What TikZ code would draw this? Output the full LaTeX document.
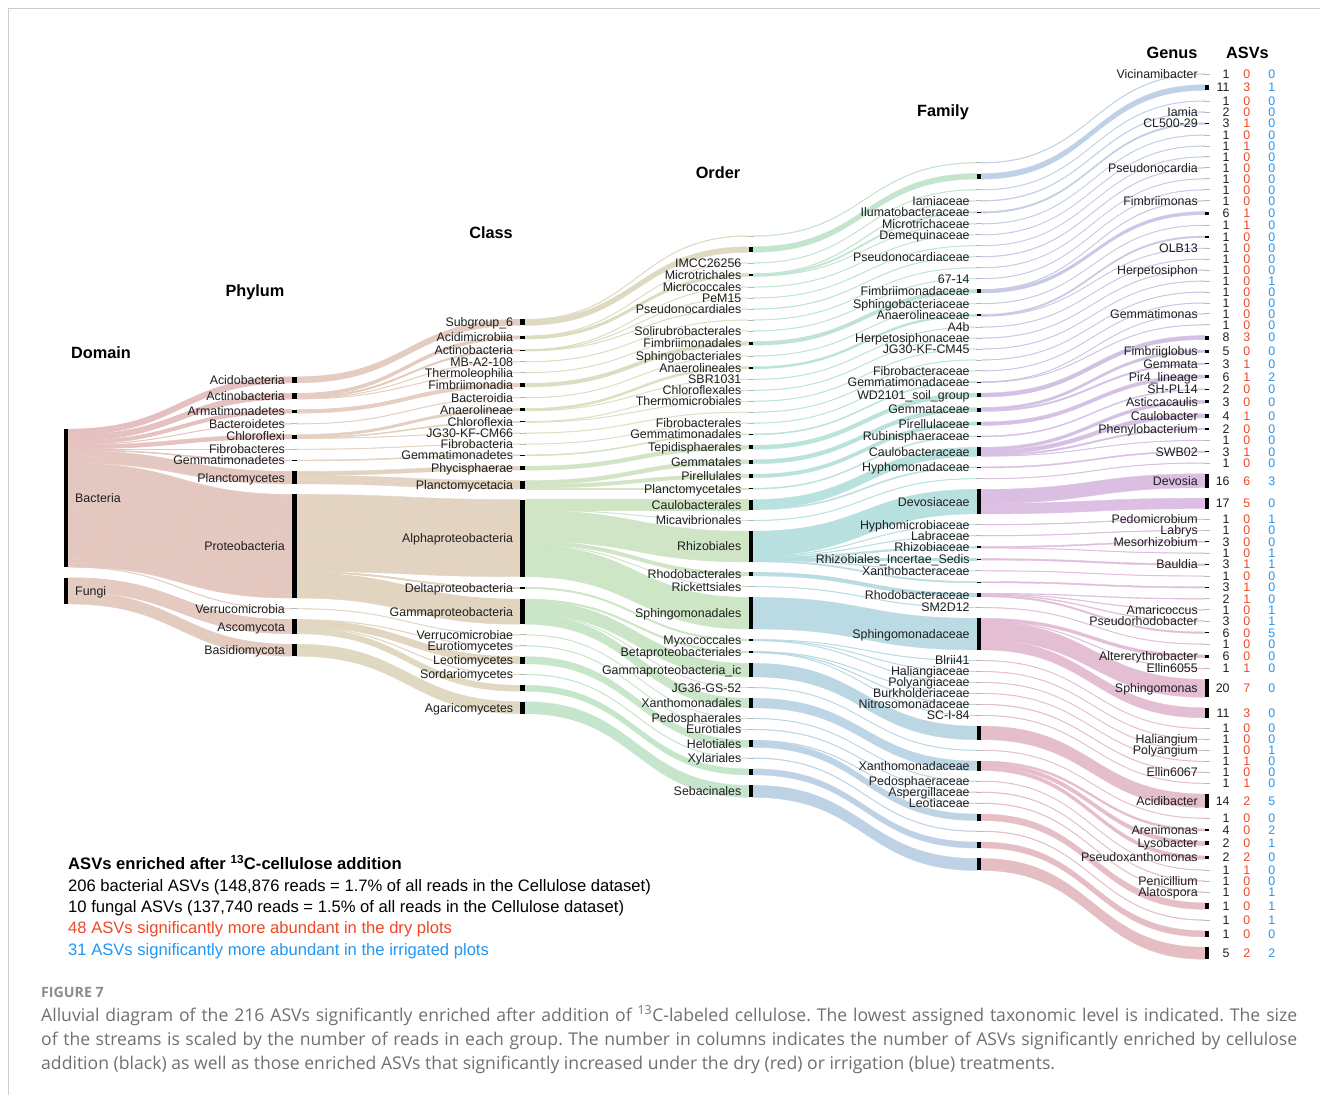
\documentclass[tikz,border=0pt]{standalone}
\usepackage{fontspec}
\setmainfont{Liberation Sans}
\newfontfamily\capfont{Open Sans}
\definecolor{pal0}{RGB}{229,190,192}
\definecolor{pal1}{RGB}{228,206,192}
\definecolor{pal2}{RGB}{225,215,192}
\definecolor{pal3}{RGB}{214,227,195}
\definecolor{pal4}{RGB}{204,230,198}
\definecolor{pal5}{RGB}{190,229,210}
\definecolor{pal6}{RGB}{184,226,222}
\definecolor{pal7}{RGB}{186,217,228}
\definecolor{pal8}{RGB}{192,207,230}
\definecolor{pal9}{RGB}{206,195,230}
\definecolor{pal10}{RGB}{222,190,225}
\definecolor{pal11}{RGB}{229,190,208}
\definecolor{pal12}{RGB}{229,190,195}
\definecolor{pal13}{RGB}{229,190,195}
\definecolor{numred}{RGB}{240,72,36}
\definecolor{numblue}{RGB}{33,150,243}
\definecolor{capgray}{RGB}{112,112,112}
\definecolor{figgray}{RGB}{140,140,140}
\definecolor{framegray}{RGB}{205,205,205}
\tikzset{
  lab/.style={font=\fontsize{12.4}{13}\selectfont, inner sep=0pt, text=black!88},
  hdr/.style={font=\fontsize{16.3}{18}\selectfont\bfseries, inner sep=0pt, anchor=base},
  leg/.style={font=\fontsize{16.6}{19}\selectfont, inner sep=0pt, anchor=base west},
  capt/.style={font=\capfont\fontsize{17.6}{21}\selectfont\frenchspacing, inner sep=0pt, anchor=base west, text=capgray},
}
\makeatletter
\newdimen\accy
\newcount\nstrata
\def\gapv{10.45}
\def\cent{516.5}
\def\layoutcol#1{%
  \global\accy=0pt\relax
  \global\nstrata=0\relax
  \gdef\prevs{}%
  \foreach \i in {1,...,70}{%
    \edef\cur{\csname s@\i @#1\endcsname}%
    \ifx\cur\prevs\else\global\advance\nstrata by 1\relax\fi
    \xdef\prevs{\cur}%
    \global\advance\accy by \csname w@\i\endcsname pt\relax
  }%
  \pgfmathsetmacro\spread{\accy+(\nstrata-1)*\gapv}%
  \pgfmathsetmacro\ytop{\cent-\spread/2}%
  \global\accy=\ytop pt\relax
  \gdef\prevs{}%
  \global\nstrata=0\relax
  \foreach \i in {1,...,70}{%
    \edef\cur{\csname s@\i @#1\endcsname}%
    \ifx\cur\prevs\else
      \ifnum\i>1\relax\global\advance\accy by \gapv pt\relax\fi
      \global\advance\nstrata by 1\relax
      \expandafter\xdef\csname st@#1@\cur\endcsname{\strip@pt\accy}%
    \fi
    \xdef\prevs{\cur}%
    \expandafter\xdef\csname t@\i @#1\endcsname{\strip@pt\accy}%
    \expandafter\xdef\csname li@\i @#1\endcsname{\the\nstrata}%
    \global\advance\accy by \csname w@\i\endcsname pt\relax
    \expandafter\xdef\csname sb@#1@\cur\endcsname{\strip@pt\accy}%
  }%
}
\newcommand\drawbar[3]{%
  \pgfmathsetmacro\hh{#3-#2}%
  \pgfmathsetmacro\ymid{(#2+#3)/2}%
  \ifdim\hh pt<1pt
    \draw[gray!55,line width=0.9pt] ({#1-3},\ymid) -- ({#1+3},\ymid);
  \else
    \fill[black] ({#1-2.2},#2) rectangle ({#1+2.2},#3);
  \fi
}
% #1 column, #2 bar x, #3 label x, #4 anchor, #5 list
\newcommand\drawcol[5]{%
  \foreach \s/\lab in {#5}{%
    \edef\yt{\csname st@#1@\s\endcsname}%
    \edef\yb{\csname sb@#1@\s\endcsname}%
    \drawbar{#2}{\yt}{\yb}%
    \pgfmathsetmacro\yl{(\yt+\yb)/2+4.4}%
    \node[lab,anchor=#4] (c#1\s) at (#3,\yl) {\lab};
  }%
}
\makeatother
\begin{document}
\begin{tikzpicture}[x=1pt,y=-1pt]
\useasboundingbox (0,0) rectangle (1320,1095);
\fill[white] (0,0) rectangle (1320,1095);
\draw[framegray,line width=1pt] (8.5,1095) -- (8.5,8.5) -- (1320,8.5);
% ---------- data: row / width / domain / phylum / class / order / family
\foreach \ri/\rw/\ra/\rb/\rc/\rd/\re in {
1/0.6/D1/P1/C1/O1/F1, 2/5.5/D1/P1/C1/O2/F2, 3/0.5/D1/P2/C2/O3/F3, 4/0.7/D1/P2/C2/O4/F4,
5/1.5/D1/P2/C2/O4/F5, 6/0.5/D1/P2/C2/O4/F6, 7/0.5/D1/P2/C3/O5/F7, 8/0.5/D1/P2/C3/O6/F8,
9/0.6/D1/P2/C3/O7/F9, 10/0.5/D1/P2/C4/O8/F10, 11/0.5/D1/P2/C5/O9/F11, 12/0.6/D1/P3/C6/O10/F12,
13/3.0/D1/P3/C6/O10/F12, 14/0.5/D1/P4/C7/O11/F13, 15/1.5/D1/P5/C8/O12/F14, 16/0.5/D1/P5/C8/O12/F14,
17/0.5/D1/P5/C8/O13/F15, 18/0.5/D1/P5/C9/O14/F16, 19/0.5/D1/P5/C9/O15/F17, 20/0.5/D1/P5/C10/O16/F18,
21/0.5/D1/P6/C11/O17/F19, 22/0.5/D1/P7/C12/O18/F20, 23/0.5/D1/P7/C12/O18/F20, 24/4.0/D1/P8/C13/O19/F21,
25/2.5/D1/P8/C14/O20/F22, 26/1.5/D1/P8/C14/O20/F22, 27/3.5/D1/P8/C14/O21/F23, 28/1.0/D1/P8/C14/O22/F24,
29/3.0/D1/P9/C15/O23/F25, 30/4.0/D1/P9/C15/O23/F25, 31/1.5/D1/P9/C15/O23/F25, 32/0.5/D1/P9/C15/O23/F25,
33/1.2/D1/P9/C15/O23/F26, 34/0.5/D1/P9/C15/O24/F27, 35/14.0/D1/P9/C15/O25/F28, 36/10.5/D1/P9/C15/O25/F28,
37/0.6/D1/P9/C15/O25/F29, 38/0.6/D1/P9/C15/O25/F30, 39/1.2/D1/P9/C15/O25/F31, 40/0.5/D1/P9/C15/O25/F31,
41/1.5/D1/P9/C15/O25/F32, 42/0.5/D1/P9/C15/O25/F33, 43/1.3/D1/P9/C15/O25/F34, 44/0.7/D1/P9/C15/O26/F35,
45/0.6/D1/P9/C15/O26/F35, 46/0.8/D1/P9/C15/O26/F35, 47/1.5/D1/P9/C15/O26/F35, 48/0.5/D1/P9/C15/O27/F36,
49/3.0/D1/P9/C15/O28/F37, 50/0.6/D1/P9/C15/O28/F37, 51/18.0/D1/P9/C15/O28/F37, 52/10.0/D1/P9/C15/O28/F37,
53/0.5/D1/P9/C16/O29/F38, 54/0.5/D1/P9/C16/O29/F39, 55/0.5/D1/P9/C16/O29/F40, 56/0.5/D1/P9/C17/O30/F41,
57/0.6/D1/P9/C17/O30/F42, 58/0.5/D1/P9/C17/O30/F43, 59/13.5/D1/P9/C17/O31/F44, 60/0.5/D1/P9/C17/O32/F45,
61/2.0/D1/P9/C17/O33/F46, 62/4.0/D1/P9/C17/O33/F46, 63/3.5/D1/P9/C17/O33/F46, 64/0.5/D1/P10/C18/O34/F47,
65/0.6/D2/P11/C19/O35/F48, 66/0.6/D2/P11/C20/O36/F49, 67/6.5/D2/P11/C20/O36/F50, 68/0.6/D2/P11/C21/O37/F51,
69/6.0/D2/P11/C22/O38/F52, 70/12.0/D2/P12/C23/O39/F53}{%
  \expandafter\xdef\csname w@\ri\endcsname{\rw}%
  \expandafter\xdef\csname s@\ri @0\endcsname{\ra}%
  \expandafter\xdef\csname s@\ri @1\endcsname{\rb}%
  \expandafter\xdef\csname s@\ri @2\endcsname{\rc}%
  \expandafter\xdef\csname s@\ri @3\endcsname{\rd}%
  \expandafter\xdef\csname s@\ri @4\endcsname{\re}%
  \expandafter\xdef\csname s@\ri @5\endcsname{G\ri}%
}
\layoutcol{0}\layoutcol{1}\layoutcol{2}\layoutcol{3}\layoutcol{4}\layoutcol{5}
\expandafter\def\csname off@1\endcsname{2}
\expandafter\def\csname off@2\endcsname{14}
\expandafter\def\csname off@3\endcsname{37}
\expandafter\def\csname off@4\endcsname{76}
\expandafter\def\csname off@5\endcsname{129}
% ---------- ribbons
\foreach \i in {1,...,70}{%
  \foreach \k in {0,...,4}{%
    \pgfmathtruncatemacro\kn{\k+1}%
    \edef\yl{\csname t@\i @\k\endcsname}%
    \edef\yr{\csname t@\i @\kn\endcsname}%
    \edef\ww{\csname w@\i\endcsname}%
    \pgfmathsetmacro\xl{66.2+228.2*\k+2.2}%
    \pgfmathsetmacro\xr{66.2+228.2*\kn-2.2}%
    \pgfmathsetmacro\xm{(\xl+\xr)/2}%
    \edef\lli{\csname li@\i @\kn\endcsname}%
    \edef\offv{\csname off@\kn\endcsname}%
    \pgfmathsetmacro\pp{12*(\offv+\lli-1)/199}%
    \pgfmathtruncatemacro\pk{floor(\pp)}%
    \pgfmathtruncatemacro\pkn{\pk+1}%
    \pgfmathsetmacro\pmix{100*(1-(\pp-\pk))}%
    \edef\tmpa{\noexpand\colorlet{fc}{pal\pk!\pmix!pal\pkn}}\tmpa
    \filldraw[fill=fc,draw=fc,line width=0.35pt] (\xl,\yl) .. controls (\xm,\yl) and (\xm,\yr) .. (\xr,\yr)
      -- (\xr,{\yr+\ww}) .. controls (\xm,{\yr+\ww}) and (\xm,{\yl+\ww}) .. (\xl,{\yl+\ww}) -- cycle;
  }%
}
% ---------- bars and labels
\drawcol{0}{66.2}{75}{base west}{D1/Bacteria, D2/Fungi}
\drawcol{1}{294.4}{285.1}{base east}{P1/Acidobacteria, P2/Actinobacteria, P3/Armatimonadetes, P4/Bacteroidetes,
  P5/Chloroflexi, P6/Fibrobacteres, P7/Gemmatimonadetes, P8/Planctomycetes, P9/Proteobacteria,
  P10/Verrucomicrobia, P11/Ascomycota, P12/Basidiomycota}
\drawcol{2}{522.6}{513.3}{base east}{C1/Subgroup\_6, C2/Acidimicrobiia, C3/Actinobacteria, C4/MB-A2-108,
  C5/Thermoleophilia, C6/Fimbriimonadia, C7/Bacteroidia, C8/Anaerolineae, C9/Chloroflexia, C10/JG30-KF-CM66,
  C11/Fibrobacteria, C12/Gemmatimonadetes, C13/Phycisphaerae, C14/Planctomycetacia, C15/Alphaproteobacteria,
  C16/Deltaproteobacteria, C17/Gammaproteobacteria, C18/Verrucomicrobiae, C19/Eurotiomycetes, C20/Leotiomycetes,
  C21/Sordariomycetes, C22/{}, C23/Agaricomycetes}
\drawcol{3}{750.8}{741.5}{base east}{O1/{}, O2/{}, O3/IMCC26256, O4/Microtrichales, O5/Micrococcales, O6/PeM15,
  O7/Pseudonocardiales, O8/{}, O9/Solirubrobacterales, O10/Fimbriimonadales, O11/Sphingobacteriales,
  O12/Anaerolineales, O13/SBR1031, O14/Chloroflexales, O15/Thermomicrobiales, O16/{}, O17/Fibrobacterales,
  O18/Gemmatimonadales, O19/Tepidisphaerales, O20/Gemmatales, O21/Pirellulales, O22/Planctomycetales,
  O23/Caulobacterales, O24/Micavibrionales, O25/Rhizobiales, O26/Rhodobacterales, O27/Rickettsiales,
  O28/Sphingomonadales, O29/Myxococcales, O30/Betaproteobacteriales, O31/Gammaproteobacteria\_ic,
  O32/JG36-GS-52, O33/Xanthomonadales, O34/Pedosphaerales, O35/Eurotiales, O36/Helotiales, O37/Xylariales,
  O38/{}, O39/Sebacinales}
\drawcol{4}{979.0}{969.8}{base east}{F1/{}, F2/{}, F3/{}, F4/Iamiaceae, F5/Ilumatobacteraceae, F6/Microtrichaceae,
  F7/Demequinaceae, F8/{}, F9/Pseudonocardiaceae, F10/{}, F11/67-14, F12/Fimbriimonadaceae,
  F13/Sphingobacteriaceae, F14/Anaerolineaceae, F15/A4b, F16/Herpetosiphonaceae, F17/JG30-KF-CM45, F18/{},
  F19/Fibrobacteraceae, F20/Gemmatimonadaceae, F21/WD2101\_soil\_group, F22/Gemmataceae, F23/Pirellulaceae,
  F24/Rubinisphaeraceae, F25/Caulobacteraceae, F26/Hyphomonadaceae, F27/{}, F28/Devosiaceae,
  F29/Hyphomicrobiaceae, F30/Labraceae, F31/Rhizobiaceae, F32/Rhizobiales\_Incertae\_Sedis,
  F33/Xanthobacteraceae, F34/{}, F35/Rhodobacteraceae, F36/SM2D12, F37/Sphingomonadaceae, F38/Blrii41,
  F39/Haliangiaceae, F40/Polyangiaceae, F41/Burkholderiaceae, F42/Nitrosomonadaceae, F43/SC-I-84, F44/{},
  F45/{}, F46/Xanthomonadaceae, F47/Pedosphaeraceae, F48/Aspergillaceae, F49/Leotiaceae, F50/{}, F51/{},
  F52/{}, F53/{}}
% ---------- genus column with ASV numbers
\foreach \gi/\lab/\na/\nb/\nc in {
1/Vicinamibacter/1/0/0, 2/{}/11/3/1, 3/{}/1/0/0, 4/Iamia/2/0/0, 5/CL500-29/3/1/0, 6/{}/1/0/0, 7/{}/1/1/0,
8/{}/1/0/0, 9/Pseudonocardia/1/0/0, 10/{}/1/0/0, 11/{}/1/0/0, 12/Fimbriimonas/1/0/0, 13/{}/6/1/0,
14/{}/1/1/0, 15/{}/1/0/0, 16/OLB13/1/0/0, 17/{}/1/0/0, 18/Herpetosiphon/1/0/0, 19/{}/1/0/1, 20/{}/1/0/0,
21/{}/1/0/0, 22/Gemmatimonas/1/0/0, 23/{}/1/0/0, 24/{}/8/3/0, 25/Fimbriiglobus/5/0/0, 26/Gemmata/3/1/0,
27/Pir4\_lineage/6/1/2, 28/SH-PL14/2/0/0, 29/Asticcacaulis/3/0/0, 30/Caulobacter/4/1/0,
31/Phenylobacterium/2/0/0, 32/{}/1/0/0, 33/SWB02/3/1/0, 34/{}/1/0/0, 35/Devosia/16/6/3, 36/{}/17/5/0,
37/Pedomicrobium/1/0/1, 38/Labrys/1/0/0, 39/Mesorhizobium/3/0/0, 40/{}/1/0/1, 41/Bauldia/3/1/1,
42/{}/1/0/0, 43/{}/3/1/0, 44/{}/2/1/0, 45/Amaricoccus/1/0/1, 46/Pseudorhodobacter/3/0/1, 47/{}/6/0/5,
48/{}/1/0/0, 49/Altererythrobacter/6/0/0, 50/Ellin6055/1/1/0, 51/Sphingomonas/20/7/0, 52/{}/11/3/0,
53/{}/1/0/0, 54/Haliangium/1/0/0, 55/Polyangium/1/0/1, 56/{}/1/1/0, 57/Ellin6067/1/0/0, 58/{}/1/1/0,
59/Acidibacter/14/2/5, 60/{}/1/0/0, 61/Arenimonas/4/0/2, 62/Lysobacter/2/0/1, 63/Pseudoxanthomonas/2/2/0,
64/{}/1/1/0, 65/Penicillium/1/0/0, 66/Alatospora/1/0/1, 67/{}/1/0/1, 68/{}/1/0/1, 69/{}/1/0/0, 70/{}/5/2/2}{%
  \edef\yt{\csname st@5@G\gi\endcsname}%
  \edef\yb{\csname sb@5@G\gi\endcsname}%
  \drawbar{1207.2}{\yt}{\yb}%
  \pgfmathsetmacro\yl{(\yt+\yb)/2+4.4}%
  \node[lab,anchor=base east] (g\gi) at (1197.9,\yl) {\lab};
  \node[lab,anchor=base east] (na\gi) at (1229.8,\yl) {\na};
  \node[lab,anchor=base,text=numred] (nb\gi) at (1246.7,\yl) {\nb};
  \node[lab,anchor=base,text=numblue] (nc\gi) at (1271.7,\yl) {\nc};
}
% ---------- headers
\node[hdr] (hD) at (101,358.8) {Domain};
\node[hdr] (hP) at (255,296.8) {Phylum};
\node[hdr] (hC) at (491,238.8) {Class};
\node[hdr] (hO) at (718,178.8) {Order};
\node[hdr] (hF) at (943,116.8) {Family};
\node[hdr] (hG) at (1172,58.5) {Genus};
\node[hdr] (hA) at (1247.5,58.5) {ASVs};
% ---------- legend
\node[leg,font=\fontsize{16.6}{19}\selectfont\bfseries] (l1) at (68,869.9) {ASVs enriched after \textsuperscript{13}C-cellulose addition};
\node[leg] (l2) at (68,891) {206 bacterial ASVs (148,876 reads = 1.7\% of all reads in the Cellulose dataset)};
\node[leg] (l3) at (68,912.5) {10 fungal ASVs (137,740 reads = 1.5\% of all reads in the Cellulose dataset)};
\node[leg,text=numred] (l4) at (68,933.8) {48 ASVs significantly more abundant in the dry plots};
\node[leg,text=numblue] (l5) at (68,955) {31 ASVs significantly more abundant in the irrigated plots};
% ---------- caption
\node[capt,font=\capfont\fontsize{14.2}{16}\selectfont\bfseries,text=figgray] (f7) at (41,997) {FIGURE 7};
\node[capt] (cp1) at (41,1021) {\makebox[1256pt][s]{Alluvial diagram of the 216 ASVs significantly enriched after addition of \textsuperscript{13}C-labeled cellulose. The lowest assigned taxonomic level is indicated. The size}};
\node[capt] (cp2) at (41,1045) {\makebox[1256pt][s]{of the streams is scaled by the number of reads in each group. The number in columns indicates the number of ASVs significantly enriched by cellulose}};
\node[capt] (cp3) at (41,1069) {addition (black) as well as those enriched ASVs that significantly increased under the dry (red) or irrigation (blue) treatments.};
\end{tikzpicture}
\end{document}
